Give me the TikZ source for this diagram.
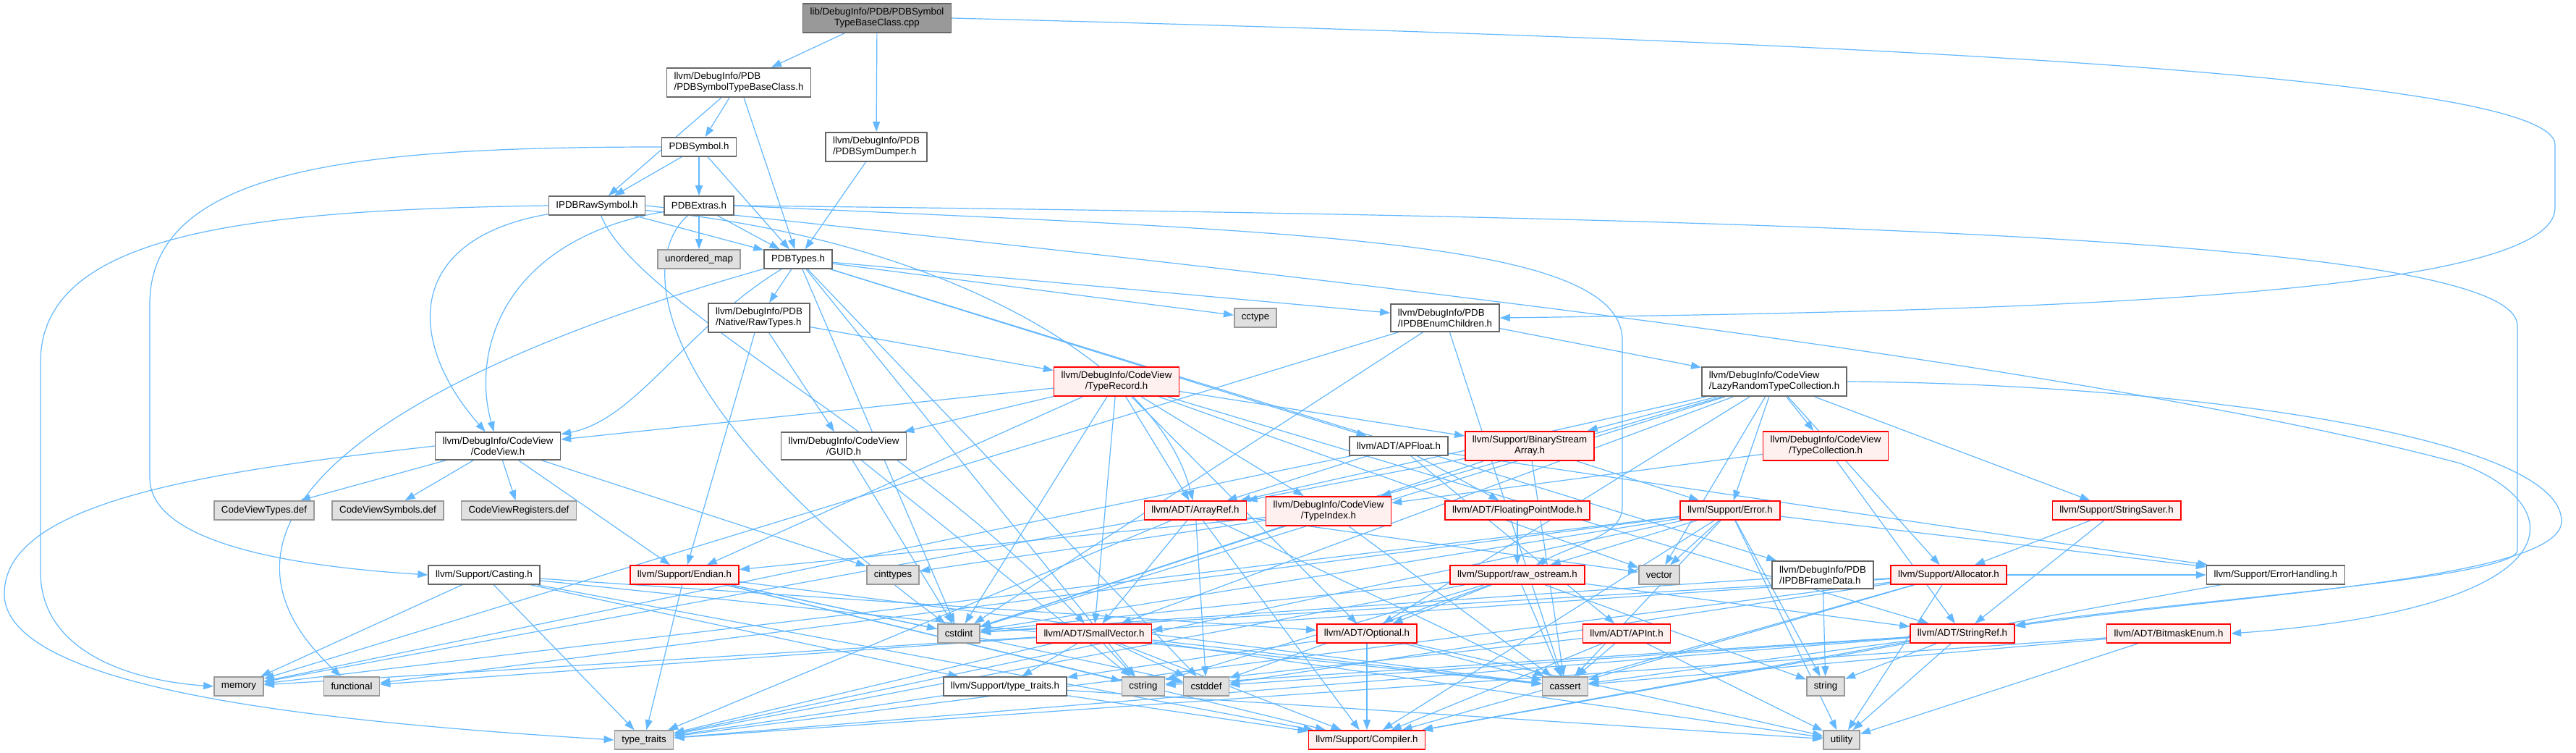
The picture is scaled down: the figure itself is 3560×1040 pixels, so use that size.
\documentclass[tikz,border=0pt]{standalone}
\usepackage{fontspec}
\setmainfont{Liberation Sans}
\usetikzlibrary{arrows.meta}
\pgfdeclarelayer{bglayer}
\pgfdeclarelayer{edgelayer}
\pgfsetlayers{bglayer,edgelayer,main}
\definecolor{edgec}{HTML}{63B8FF}
\definecolor{boxborder}{HTML}{666666}
\definecolor{grayfill}{HTML}{E0E0E0}
\definecolor{grayborder}{HTML}{999999}
\definecolor{redfill}{HTML}{FFF0F0}
\definecolor{redborder}{HTML}{FF0000}
\definecolor{rootfill}{HTML}{999999}
\begin{document}
\begin{tikzpicture}[x=1pt,y=-1pt,
  nbox/.style={draw=boxborder, line width=1.6pt, fill=white,
    font=\fontsize{13.3}{15}\selectfont, inner xsep=10pt, inner ysep=6.5pt,
    minimum height=26pt, align=center},
  lbox/.style={nbox, align=left},
  gbox/.style={nbox, fill=grayfill, draw=grayborder},
  rbox/.style={nbox, fill=redfill, draw=redborder},
  edg/.style={draw=edgec, line width=1.2pt, -{Triangle[length=14pt,width=10pt]}}]
\useasboundingbox (0,0) rectangle (3560,1040);
\begin{pgfonlayer}{bglayer}
\fill[white] (0,0) rectangle (3560,1040);
\end{pgfonlayer}
% nodes
\node[nbox, fill=rootfill] (root) at (1212,25) {lib/DebugInfo/PDB/PDBSymbol\\TypeBaseClass.cpp};
\node[lbox] (tbc) at (1021,114) {llvm/DebugInfo/PDB\\/PDBSymbolTypeBaseClass.h};
\node[nbox] (pdbsym) at (966,203) {PDBSymbol.h};
\node[lbox] (dumper) at (1211,203) {llvm/DebugInfo/PDB\\/PDBSymDumper.h};
\node[nbox] (extras) at (966,284) {PDBExtras.h};
\node[nbox] (raw) at (825,284) {IPDBRawSymbol.h};
\node[gbox] (umap) at (966,358) {unordered\_map};
\node[nbox] (types) at (1103,358) {PDBTypes.h};
\node[lbox] (rawtypes) at (1049,439) {llvm/DebugInfo/PDB\\/Native/RawTypes.h};
\node[gbox] (cctype) at (1735,439) {cctype};
\node[lbox] (enumch) at (1997,439) {llvm/DebugInfo/PDB\\/IPDBEnumChildren.h};
\node[rbox] (typerec) at (1543,527) {llvm/DebugInfo/CodeView\\/TypeRecord.h};
\node[lbox] (lazy) at (2452,527) {llvm/DebugInfo/CodeView\\/LazyRandomTypeCollection.h};
\node[nbox] (cv) at (688,616) {llvm/DebugInfo/CodeView\\/CodeView.h};
\node[nbox] (guid) at (1166,616) {llvm/DebugInfo/CodeView\\/GUID.h};
\node[nbox] (apfloat) at (1933,616) {llvm/ADT/APFloat.h};
\node[rbox] (bsa) at (2114,616) {llvm/Support/BinaryStream\\Array.h};
\node[rbox] (tcoll) at (2523,616) {llvm/DebugInfo/CodeView\\/TypeCollection.h};
\node[gbox] (cvtypes) at (365,705) {CodeViewTypes.def};
\node[gbox] (cvsyms) at (536,705) {CodeViewSymbols.def};
\node[gbox] (cvregs) at (717,705) {CodeViewRegisters.def};
\node[rbox] (arrayref) at (1652,705) {llvm/ADT/ArrayRef.h};
\node[rbox] (typeindex) at (1836,706) {llvm/DebugInfo/CodeView\\/TypeIndex.h};
\node[rbox] (fpmode) at (2097,705) {llvm/ADT/FloatingPointMode.h};
\node[rbox] (error) at (2391,705) {llvm/Support/Error.h};
\node[rbox] (saver) at (2925,705) {llvm/Support/StringSaver.h};
\node[nbox] (casting) at (669,794) {llvm/Support/Casting.h};
\node[rbox] (endian) at (946,794) {llvm/Support/Endian.h};
\node[gbox] (cinttypes) at (1234,794) {cinttypes};
\node[rbox] (rawos) at (2097,794) {llvm/Support/raw\_ostream.h};
\node[gbox] (vector) at (2293,794) {vector};
\node[lbox] (framedata) at (2519,794) {llvm/DebugInfo/PDB\\/IPDBFrameData.h};
\node[rbox] (alloc) at (2693,794) {llvm/Support/Allocator.h};
\node[nbox] (errh) at (3145,794) {llvm/Support/ErrorHandling.h};
\node[gbox] (cstdint) at (1325,875) {cstdint};
\node[rbox] (smallvec) at (1512,875) {llvm/ADT/SmallVector.h};
\node[rbox] (optional) at (1889,875) {llvm/ADT/Optional.h};
\node[rbox] (apint) at (2248,875) {llvm/ADT/APInt.h};
\node[rbox] (strref) at (2712,875) {llvm/ADT/StringRef.h};
\node[rbox] (bitmask) at (2997,875) {llvm/ADT/BitmaskEnum.h};
\node[gbox] (memory) at (330,948) {memory};
\node[gbox] (functional) at (486,948) {functional};
\node[nbox] (tt) at (1389,948) {llvm/Support/type\_traits.h};
\node[gbox] (cstring) at (1580,948) {cstring};
\node[gbox] (cstddef) at (1667,948) {cstddef};
\node[gbox] (cassert) at (2163,948) {cassert};
\node[gbox] (string) at (2523,948) {string};
\node[gbox] (typetraits) at (890,1022) {type\_traits};
\node[rbox] (compiler) at (1889,1022) {llvm/Support/Compiler.h};
\node[gbox] (utility) at (2545,1022) {utility};
% edges
\begin{pgfonlayer}{edgelayer}
\foreach \s/\t in {root/tbc, root/dumper,
  tbc/pdbsym, tbc/types, tbc/raw,
  pdbsym/raw, pdbsym/extras, pdbsym/types,
  dumper/types,
  extras/umap, extras/types,
  raw/types,
  types/rawtypes, types/cctype, types/enumch, types/apfloat, types/framedata, types/cstddef, types/cstdint, types/cstring,
  rawtypes/typerec, rawtypes/guid, rawtypes/endian,
  enumch/cassert, enumch/cstdint, enumch/memory, enumch/lazy,
  typerec/cv, typerec/guid, typerec/arrayref, typerec/smallvec, typerec/optional, typerec/strref, typerec/typeindex, typerec/bsa, typerec/endian, typerec/cstdint, typerec/vector,
  lazy/arrayref, lazy/optional, lazy/smallvec, lazy/tcoll, lazy/typeindex, lazy/alloc, lazy/bsa, lazy/error, lazy/saver, lazy/cstdint, lazy/vector,
  cv/cvtypes, cv/cvsyms, cv/cvregs, cv/endian, cv/cinttypes,
  guid/cstdint, guid/cstring,
  apfloat/arrayref, apfloat/fpmode, apfloat/apint, apfloat/errh, apfloat/memory,
  bsa/arrayref, bsa/error, bsa/cassert, bsa/cstdint,
  tcoll/strref, tcoll/typeindex,
  typeindex/endian, typeindex/cassert, typeindex/cinttypes, typeindex/cstdint,
  arrayref/smallvec, arrayref/compiler, arrayref/cassert, arrayref/cstddef, arrayref/memory, arrayref/typetraits, arrayref/vector,
  fpmode/rawos,
  error/compiler, error/errh, error/rawos, error/cassert, error/cstdint, error/functional, error/memory, error/string, error/typetraits, error/utility, error/vector,
  saver/alloc, saver/strref,
  rawos/optional, rawos/strref, rawos/cassert, rawos/cstddef, rawos/cstdint, rawos/cstring, rawos/string, rawos/typetraits,
  framedata/string, framedata/cstdint,
  alloc/smallvec, alloc/compiler, alloc/errh, alloc/cassert, alloc/cstddef, alloc/cstdint, alloc/typetraits, alloc/utility,
  errh/compiler,
  endian/compiler, endian/cassert, endian/cstddef, endian/cstdint, endian/cstring, endian/typetraits,
  casting/optional, casting/compiler, casting/tt, casting/cassert, casting/memory, casting/typetraits,
  smallvec/compiler, smallvec/tt, smallvec/cassert, smallvec/cstddef, smallvec/cstring, smallvec/functional, smallvec/memory, smallvec/typetraits, smallvec/utility,
  optional/compiler, optional/tt, optional/cassert, optional/utility,
  apint/compiler, apint/cassert, apint/cstring, apint/utility,
  strref/compiler, strref/cassert, strref/cstddef, strref/cstring, strref/string, strref/typetraits, strref/utility,
  bitmask/cassert, bitmask/typetraits, bitmask/utility,
  tt/compiler, tt/typetraits, tt/utility}
  \draw[edg] (\s) -- (\t);
% curved connectors
\draw[edg] (raw) .. controls (560,330) and (560,470) .. (cv);
\draw[edg] (extras) .. controls (700,330) and (650,480) .. (cv);
\draw[edg] (types) .. controls (950,450) and (880,580) .. (cv);
\draw[edg] (raw) .. controls (880,420) and (1250,600) .. (smallvec);
\draw[edg] (raw) .. controls (1300,330) and (1600,500) .. (arrayref);
\draw[edg] (extras) .. controls (880,360) and (900,560) .. (cstdint);
\draw[edg] (types) .. controls (600,500) and (220,700) .. (functional);
\draw[edg] (root.east) .. controls (2700,60) and (3531,110) .. (3531,200) -- (3531,287) .. controls (3531,410) and (2800,430) .. (enumch.east);
\draw[edg] (pdbsym.west) .. controls (500,203) and (207,230) .. (207,420) -- (207,660) .. controls (207,760) and (450,785) .. (casting.west);
\draw[edg] (raw.west) .. controls (350,290) and (56,320) .. (56,500) -- (56,790) .. controls (56,900) and (180,940) .. (memory.west);
\draw[edg] (cv.west) .. controls (300,650) and (6,690) .. (6,820) .. controls (6,960) and (500,1000) .. (typetraits.west);
\draw[edg] (extras.east) .. controls (1800,320) and (2242,330) .. (2242,470) -- (2242,700) .. controls (2242,740) and (2180,750) .. (rawos);
\draw[edg] (extras.east) .. controls (2500,300) and (3479,330) .. (3479,450) -- (3479,760) .. controls (3479,800) and (3000,830) .. (strref);
\draw[edg] (raw.east) .. controls (1500,350) and (2800,480) .. (3400,640) .. controls (3560,700) and (3560,840) .. (bitmask.east);
\draw[edg] (lazy.east) .. controls (3000,530) and (3540,600) .. (3540,720) .. controls (3540,800) and (3100,820) .. (strref);
\end{pgfonlayer}
\end{tikzpicture}
\end{document}
